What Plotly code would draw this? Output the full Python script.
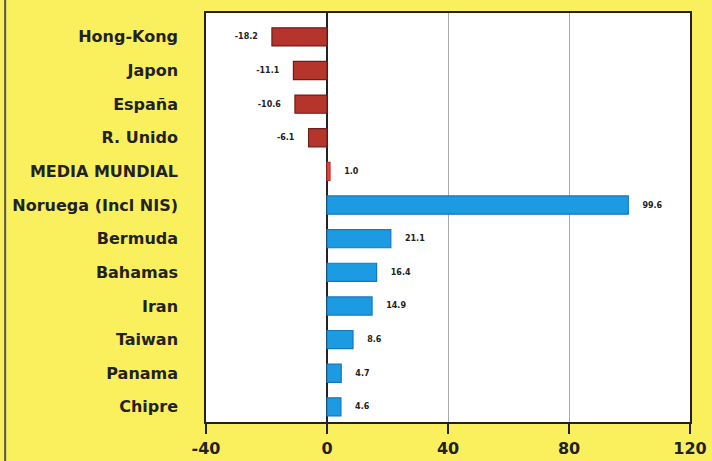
import plotly.graph_objects as go

categories = ["Hong-Kong", "Japon", "España", "R. Unido", "MEDIA MUNDIAL",
              "Noruega (Incl NIS)", "Bermuda", "Bahamas", "Iran", "Taiwan",
              "Panama", "Chipre"]
values = [-18.2, -11.1, -10.6, -6.1, 1.0, 99.6, 21.1, 16.4, 14.9, 8.6, 4.7, 4.6]
value_labels = ["-18.2", "-11.1", "-10.6", "-6.1", "1.0", "99.6", "21.1",
                "16.4", "14.9", "8.6", "4.7", "4.6"]
x_ticks = [-40, 0, 40, 80, 120]
x_tick_text = ["-40", "0", "40", "80", "120"]

NB = "\u00a0"
colors, lines, texts = [], [], []
for c, v, t in zip(categories, values, value_labels):
    if c == "MEDIA MUNDIAL":
        colors.append("#E8453C"); lines.append("#C0302A")
    elif v < 0:
        colors.append("#B5352C"); lines.append("#6E1E18")
    else:
        colors.append("#1D9BE2"); lines.append("#1478C0")
    texts.append(t + NB * 4 if v < 0 else NB * 4 + t)

FONT = "DejaVu Sans"

fig = go.Figure(go.Bar(
    x=values, y=categories, orientation="h",
    marker=dict(color=colors, line=dict(color=lines, width=1.2)),
    text=texts, textposition="outside", cliponaxis=False,
    textfont=dict(family=FONT, size=8, color="#222", weight="bold"),
    width=0.54,
))

fig.update_layout(
    width=712, height=461,
    margin=dict(l=206, r=22, t=13, b=39),
    paper_bgcolor="#FAF05E", plot_bgcolor="white",
    showlegend=False,
    font=dict(family=FONT, color="#222", weight="bold"),
    xaxis=dict(range=[-40, 120], tickvals=x_ticks, ticktext=x_tick_text,
               ticks="outside", ticklen=10, automargin=False,
               tickcolor="#222", tickwidth=1.5, ticklabelstandoff=1,
               tickfont=dict(size=16, weight="bold"),
               showline=True, linecolor="#222", linewidth=1.5, mirror=True,
               showgrid=True, gridcolor="#AAAAAA", gridwidth=1,
               zeroline=True, zerolinecolor="#222", zerolinewidth=1.5),
    yaxis=dict(categoryorder="array", categoryarray=categories,
               range=[11.45, -0.71], ticks="", ticklabelstandoff=23,
               automargin=False,
               tickfont=dict(size=16, weight="bold"),
               showline=True, linecolor="#222", linewidth=1.5, mirror=True,
               showgrid=False),
    shapes=[dict(type="line", xref="paper", yref="paper", x0=-0.415, x1=-0.415,
                 y0=-0.1, y1=1.04, line=dict(color="#555", width=2))],
)

fig.write_html("out.html")
